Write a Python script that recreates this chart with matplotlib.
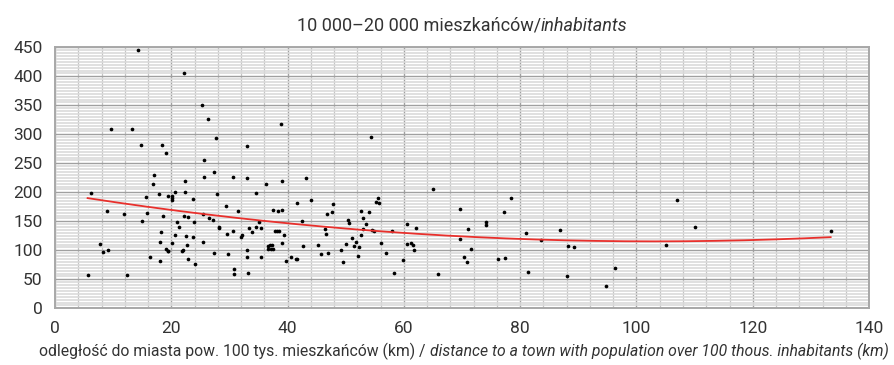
import numpy as np
import matplotlib
matplotlib.use("Agg")
import matplotlib.pyplot as plt
from matplotlib import font_manager
from matplotlib.ticker import MultipleLocator

# pick a narrow font if one is installed
installed = {f.name for f in font_manager.fontManager.ttflist}
for fam in ["Liberation Sans Narrow", "Roboto", "DejaVu Sans"]:
    if fam in installed:
        plt.rcParams["font.family"] = [fam, "DejaVu Sans"]
        break

TEXT = "#333333"

# distance to a town over 100k inhabitants (km)
distance_km = [
    5.6, 6.2, 7.7, 8.3, 9.0, 9.1, 11.9, 12.3, 15.0, 15.6, 15.8, 16.3, 17.0, 16.9,
    17.8, 18.0, 18.1, 18.3, 18.5, 19.1, 19.4, 19.4, 19.5, 20.1, 20.2, 20.2, 20.2,
    20.6, 20.7, 21.0, 21.3, 21.9, 22.0, 22.1, 22.3, 22.4, 22.5, 22.7, 22.9, 22.9,
    23.7, 23.8, 23.9, 24.0, 25.4, 25.4, 25.6, 26.5, 27.2, 27.3, 27.4, 27.8, 28.2,
    28.2, 29.4, 29.6, 29.7, 30.6, 30.6, 30.7, 30.8, 31.5, 31.9, 32.1, 33.0, 33.0,
    33.0, 33.2, 33.3, 33.8, 34.5, 34.6, 35.0, 35.5, 35.5, 36.2, 36.7, 36.7, 37.0,
    37.1, 37.3, 37.5, 37.5, 37.9, 38.2, 38.3, 38.6, 39.1, 39.1, 39.1, 39.4, 39.8,
    40.6, 41.4, 41.6, 41.7,
    14.2, 22.1, 25.3, 26.3, 9.7, 13.3, 38.9, 27.7, 14.7, 18.4, 33.1, 19.1, 25.6,
    54.3, 43.1,
    42.4, 42.6, 44.0, 45.3, 45.8, 46.5, 46.6, 46.8, 46.9, 47.6, 47.8, 49.1, 49.5,
    50.1, 50.3, 50.6, 51.1, 51.5, 51.8, 52.1, 52.3, 52.7, 52.7, 52.9, 53.0, 53.5,
    54.0, 54.5, 54.9, 55.2, 55.5, 55.7, 56.1, 57.0, 57.9, 58.3, 59.9, 60.5, 60.6,
    61.2, 61.5, 61.8, 62.1, 65.0, 65.8, 69.6, 69.6, 70.4, 70.8, 71.1, 71.5, 74.1,
    74.2, 76.2, 77.2, 77.4, 78.5, 81.0, 81.3, 83.5, 86.9, 88.0, 88.2, 89.3,
    94.7, 96.3, 105.0, 106.9, 110.0, 133.4,
]
values = [
    57, 199, 111, 97, 168, 101, 163, 58, 150, 192, 165, 89, 229, 215,
    197, 115, 82, 131, 160, 103, 194, 99, 98, 193, 190, 186, 112,
    126, 201, 148, 141, 99, 101, 159, 201, 219, 125, 110, 158, 85,
    188, 123, 148, 77, 114, 163, 227, 156, 152, 96, 235, 197, 141,
    139, 176, 128, 93, 133, 226, 59, 68, 167, 123, 127, 224, 101,
    88, 61, 138, 131, 198, 141, 149, 89, 139, 214, 107, 103, 109,
    103, 109, 170, 103, 133, 133, 167, 134, 170, 220, 112, 127, 82,
    88, 85, 85, 181,
    446, 406, 351, 327, 310, 309, 317, 293, 281, 281, 279, 267, 256,
    296, 225,
    151, 107, 187, 109, 93, 137, 128, 163, 95, 166, 179, 100, 80,
    111, 152, 147, 122, 107, 115, 90, 105, 168, 126, 155, 137, 145,
    166, 135, 133, 183, 190, 181, 113, 95, 133, 61, 84, 146, 111,
    112, 109, 101, 138, 205, 59, 171, 119, 88, 80, 137, 103, 148,
    144, 85, 166, 87, 190, 130, 62, 118, 135, 55, 107, 106,
    39, 69, 110, 187, 141, 133,
]

# second-order trend line
trend_coef = [0.00786, -1.619, 198.8]

fig = plt.figure(figsize=(8.95, 3.65), dpi=100)
ax = fig.add_axes([0.0615, 0.1553, 0.9095, 0.7151])

ax.scatter(distance_km, values, s=7, color="black", linewidths=0, zorder=3)

x = np.array(distance_km)
xs = np.linspace(x.min(), x.max(), 200)
ax.plot(xs, np.polyval(trend_coef, xs), color="#e8302c", lw=1.3, zorder=4)

ax.set_xlim(0, 140)
ax.set_ylim(0, 450)
ax.xaxis.set_major_locator(MultipleLocator(20))
ax.xaxis.set_minor_locator(MultipleLocator(4))
ax.yaxis.set_major_locator(MultipleLocator(50))
ax.yaxis.set_minor_locator(MultipleLocator(5))

ax.grid(which="minor", axis="y", color="#dadada", lw=1.2, zorder=0)
ax.grid(which="minor", axis="x", color="#c4c4c4", lw=0.9, zorder=0)
ax.grid(which="major", color="#a0a0a0", lw=1.0, zorder=1)
ax.set_axisbelow(True)

for side in ax.spines.values():
    side.set_color("#a8a8a8")
    side.set_linewidth(1.4)

ax.tick_params(which="both", length=0, labelsize=12.5, colors=TEXT, pad=9)


def mixed_text(parts, x_center, y, size, max_width=None):
    """Place regular/italic pieces side by side, centred on x_center (figure px)."""
    r = fig.canvas.get_renderer()
    objs = [fig.text(0, y, s, style=st, size=size, color=TEXT, va="center")
            for s, st in parts]
    widths = [o.get_window_extent(r).width for o in objs]
    if max_width and sum(widths) > max_width:
        k = max_width / sum(widths)
        for o in objs:
            o.set_size(size * k)
        widths = [o.get_window_extent(r).width for o in objs]
    pos = x_center - sum(widths) / 2
    for o, w in zip(objs, widths):
        o.set_x(pos / fig.bbox.width)
        pos += w


mixed_text([("10 000\u201320 000 mieszkańców/", "normal"), ("inhabitants", "italic")],
           462, 0.93, 13)
mixed_text([("odległość do miasta pow. 100 tys. mieszkańców (km) / ", "normal"),
            ("distance to a town with population over 100 thous. inhabitants (km)", "italic")],
           464, 0.036, 12.5, max_width=848)

fig.savefig("out.png", dpi=100)
